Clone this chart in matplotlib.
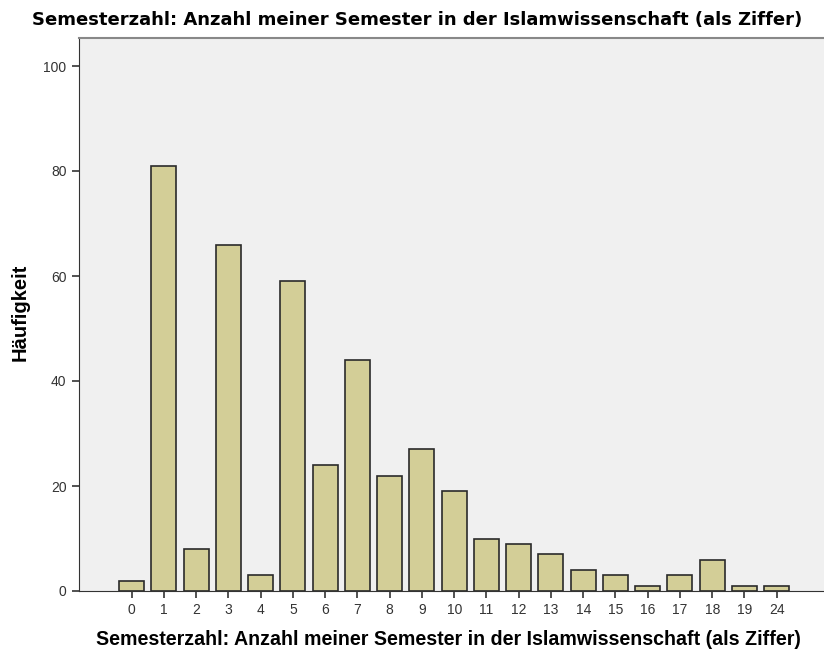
import matplotlib
matplotlib.use("Agg")
import matplotlib.pyplot as plt
import numpy as np

categories = ["0", "1", "2", "3", "4", "5", "6", "7", "8", "9", "10",
              "11", "12", "13", "14", "15", "16", "17", "18", "19", "24"]
counts = [2, 81, 8, 66, 3, 59, 24, 44, 22, 27, 19,
          10, 9, 7, 4, 3, 1, 3, 6, 1, 1]
yticks = [0, 20, 40, 60, 80, 100]

title = "Semesterzahl: Anzahl meiner Semester in der Islamwissenschaft (als Ziffer)"
xlabel = "Semesterzahl: Anzahl meiner Semester in der Islamwissenschaft (als Ziffer)"
ylabel = "Häufigkeit"

fig = plt.figure(figsize=(8.24, 6.53), dpi=100)
ax = fig.add_axes([79/824, 62/653, 1 - 79/824, (591-38)/653])
ax.set_facecolor("#f0f0f0")

x = np.arange(len(categories))
ax.bar(x, counts, width=0.775, color="#d3ce97", edgecolor="#2a2a2a", linewidth=1.2, zorder=2)

ax.set_xlim((79-131.7)/32.25, (824-131.7)/32.25)
ax.set_ylim(0, (591-38)/5.25)
ax.set_xticks(x)
ax.set_xticklabels(categories, family="Liberation Sans")
ax.set_yticks(yticks)
ax.set_yticklabels([str(v) for v in yticks], family="Liberation Sans")

ax.spines["right"].set_visible(False)
ax.spines["top"].set_color("#888888")
ax.spines["top"].set_linewidth(1.5)
ax.spines["left"].set_color("#333333")
ax.spines["bottom"].set_color("#333333")
ax.tick_params(axis="both", direction="out", length=5, width=1.2, color="#333333",
               labelsize=10, labelcolor="#333333", pad=4)

fig.text(0.506, 0.969, title, ha="center", va="center", fontsize=13,
         fontweight="bold", family="DejaVu Sans")
fig.text(0.544, 0.021, xlabel, ha="center", va="center", fontsize=14.1,
         fontweight="bold", family="Liberation Sans")
fig.text(0.0245, 0.522, ylabel, ha="center", va="center", rotation=90, fontsize=14.5,
         fontweight="bold", family="Liberation Sans")

fig.savefig("out.png", dpi=100, facecolor="white")
